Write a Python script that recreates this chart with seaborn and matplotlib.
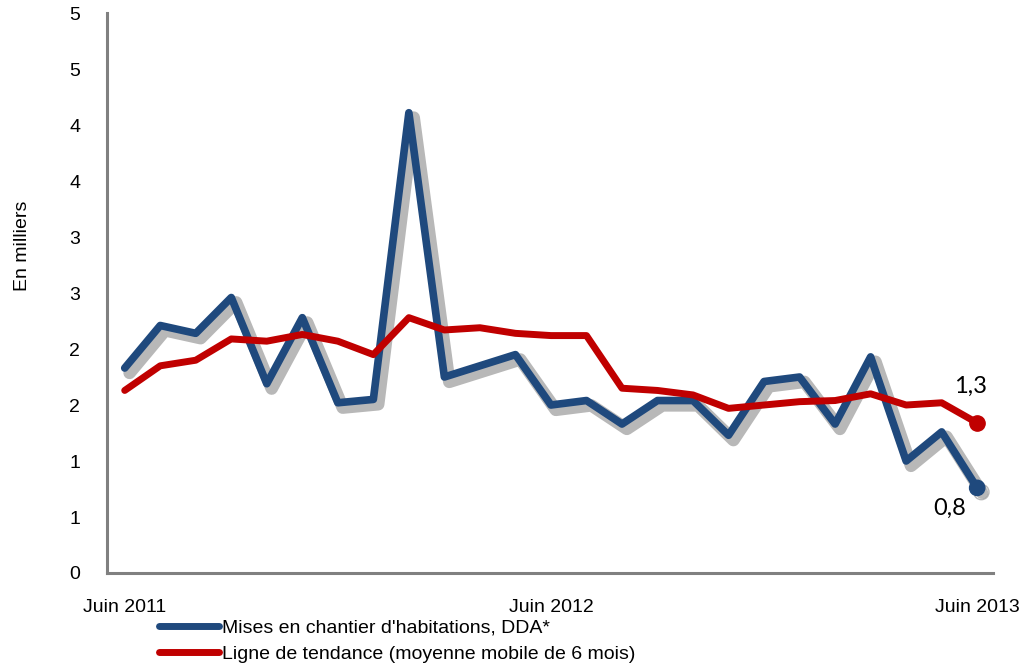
import numpy as np
import pandas as pd
import matplotlib
matplotlib.use("Agg")
import matplotlib.pyplot as plt
import matplotlib.patheffects as pe
from matplotlib.lines import Line2D
import seaborn as sns

# monthly values, June 2011 .. June 2013 (thousands)
mises_en_chantier = [1.83, 2.21, 2.14, 2.46, 1.69, 2.28, 1.52, 1.55, 4.11, 1.75,
                     1.85, 1.95, 1.50, 1.54, 1.33, 1.54, 1.54, 1.23, 1.71, 1.75,
                     1.33, 1.93, 1.00, 1.26, 0.76]
tendance = [1.63, 1.85, 1.90, 2.09, 2.07, 2.13, 2.07, 1.95, 2.28, 2.17,
            2.19, 2.14, 2.12, 2.12, 1.65, 1.63, 1.59, 1.47, 1.50, 1.53,
            1.54, 1.60, 1.50, 1.52, 1.34]
x_tick_pos = [0, 12, 24]
x_tick_labels = ["Juin 2011", "Juin 2012", "Juin 2013"]
y_ticks = [0, 0.5, 1, 1.5, 2, 2.5, 3, 3.5, 4, 4.5, 5]
y_tick_labels = ["0", "1", "1", "2", "2", "3", "3", "4", "4", "5", "5"]
series_names = ["Mises en chantier d'habitations, DDA*",
                "Ligne de tendance (moyenne mobile de 6 mois)"]
end_labels = ["0,8", "1,3"]

BLUE = "#1F497D"
RED = "#C00000"
GREY = "#808080"

df = pd.DataFrame({
    "mois": np.arange(len(mises_en_chantier)),
    "dda": mises_en_chantier,
    "tendance": tendance,
})

sns.set_style("white")
plt.rcParams["font.family"] = ["Liberation Sans", "DejaVu Sans"]
plt.rcParams["text.color"] = "black"
plt.rcParams["xtick.color"] = "black"
plt.rcParams["ytick.color"] = "black"
plt.rcParams["axes.labelcolor"] = "black"

fig = plt.figure(figsize=(10.26, 6.69), dpi=100)
ax = fig.add_axes([0.104, 0.1435, 0.864, 0.837])

shadow = [pe.SimpleLineShadow(offset=(3.5, -3.5), shadow_color="black",
                              alpha=0.28, linewidth=9),
          pe.Normal()]

sns.lineplot(data=df, x="mois", y="dda", ax=ax, color=BLUE, linewidth=5.5,
             legend=False, path_effects=shadow)
sns.lineplot(data=df, x="mois", y="tendance", ax=ax, color=RED, linewidth=5,
             legend=False)

last = df.iloc[-1]
ax.plot(last["mois"], last["dda"], "o", color=BLUE, markersize=11,
        path_effects=[pe.SimpleLineShadow(offset=(3, -3), shadow_color="black", alpha=0.28),
                      pe.Normal()])
ax.plot(last["mois"], last["tendance"], "o", color=RED, markersize=11)
ax.annotate(end_labels[0], (last["mois"], last["dda"]), xytext=(-20, -15),
            textcoords="offset points", fontsize=17, family="Lato",
            ha="center", va="center")
ax.annotate(end_labels[1], (last["mois"], last["tendance"]), xytext=(-5, 26),
            textcoords="offset points", fontsize=17, family="Lato",
            ha="center", va="center")

ax.set_xlim(-0.507, 24.45)
ax.set_ylim(0, 5)
ax.set_xticks(x_tick_pos)
ax.set_xticklabels(x_tick_labels, fontsize=14)
ax.set_yticks(y_ticks)
ax.set_yticklabels(y_tick_labels, fontsize=14)
ax.tick_params(axis="x", length=0, pad=19)
ax.tick_params(axis="y", length=5, width=2.2, color=GREY, pad=14)
ax.set_xlabel("")
ax.set_ylabel("En milliers", fontsize=14)
ax.yaxis.set_label_coords(-0.085, 0.585)

for side in ["top", "right"]:
    ax.spines[side].set_visible(False)
for side in ["left", "bottom"]:
    ax.spines[side].set_color(GREY)
    ax.spines[side].set_linewidth(2.2)

handles = [Line2D([], [], color=BLUE, linewidth=5),
           Line2D([], [], color=RED, linewidth=5)]
fig.legend(handles, series_names, loc="upper left", bbox_to_anchor=(0.155, 0.075),
           frameon=False, fontsize=14, handlelength=3.1, handletextpad=0.15,
           labelspacing=0.45, borderaxespad=0, borderpad=0)

fig.savefig("out.png", dpi=100)
